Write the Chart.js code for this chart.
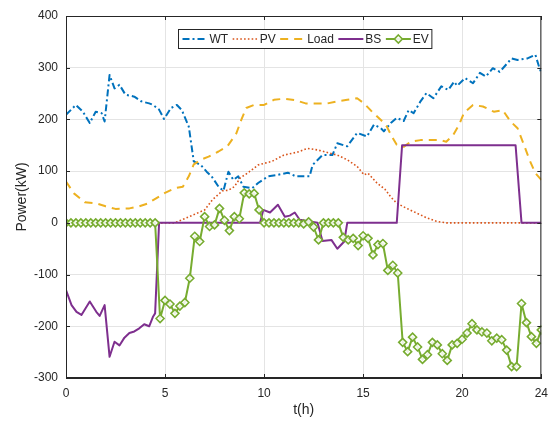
<!DOCTYPE html>
<html>
<head>
<meta charset="utf-8">
<script src="https://cdn.jsdelivr.net/npm/chart.js@4.4.1/dist/chart.umd.min.js"></script>
<style>
  html, body { margin: 0; padding: 0; background: #ffffff; }
  #wrap { width: 556px; height: 422px; }
</style>
</head>
<body>
<div id="wrap"><canvas id="c" width="556" height="422"></canvas></div>
<script>
// Wind turbine output (kW)
const wtTime  = [0,0.5,0.85,1.2,1.5,1.8,1.95,2.2,2.45,2.7,3.0,3.45,3.8,4.2,4.4,4.7,4.95,5.3,5.6,5.85,6.2,6.45,6.8,7.1,7.35,7.7,7.95,8.2,8.45,8.7,8.95,9.4,9.7,10.2,10.7,11.2,11.6,12.1,12.3,12.45,12.95,13.45,13.7,14.2,14.7,15.2,15.55,15.9,16.05,16.4,16.7,17.05,17.3,17.55,17.9,18.2,18.55,18.95,19.3,19.6,19.75,20.15,20.55,20.9,21.2,21.55,21.9,22.5,22.8,23.3,23.7,23.9,24];
const wtPower = [209,228,215,193,215,212,196,286,260,267,248,244,235,231,228,219,201,222,228,218,186,119,112,99,90,70,62,99,83,90,70,67,77,90,93,97,90,90,90,112,131,131,154,148,174,167,190,183,177,193,203,197,218,212,235,251,241,264,257,273,265,280,270,290,283,299,292,318,315,318,325,300,290];

// Photovoltaic output (kW)
const pvTime  = [0,5.5,6.4,7.0,7.4,7.9,8.2,8.5,8.8,9.2,9.7,10.4,11.0,11.7,12.2,12.7,13.2,13.7,14.2,14.7,15.05,15.25,15.7,16.1,16.4,16.7,17.0,17.2,17.7,18.2,18.7,19.2,24];
const pvPower = [0,0,15,25,45,62,63,70,87,97,112,119,131,137,144,141,136,131,122,109,93,96,77,65,50,38,32,28,19,10,3,0,0];

// Base load (kW)
const loadTime  = [0,0.4,0.95,1.5,2.0,2.5,3.2,3.7,4.1,4.4,5.0,5.5,5.9,6.2,6.45,6.8,7.2,7.7,8.15,8.6,8.85,9.1,9.5,10.0,10.5,11.0,11.6,12.1,12.7,13.2,13.7,14.2,14.7,15.05,15.45,15.9,16.2,16.45,16.7,17.05,17.4,17.9,18.4,18.9,19.2,19.55,19.85,20.1,20.55,21.05,21.6,22.05,22.45,22.8,23.15,23.4,23.7,24];
const loadPower = [80,57,40,38,32,27,28,32,37,44,58,67,70,90,113,122,128,138,148,173,199,222,228,228,238,240,237,231,231,231,235,238,241,231,215,199,186,167,151,147,157,160,160,160,157,170,190,213,228,225,215,218,196,183,148,122,96,83];

// Battery storage power (kW)
const bsTime  = [0,0.28,0.53,0.78,1.2,1.53,1.7,1.95,2.2,2.45,2.7,2.95,3.2,3.45,3.7,3.95,4.2,4.4,4.5,4.7,9.8,9.96,10.3,10.7,11.05,11.3,11.55,11.8,12.7,12.95,13.4,13.7,14.05,14.2,16.7,16.97,22.7,23.0,24];
const bsPower = [-130,-159,-172,-178,-152,-172,-180,-159,-259,-230,-237,-222,-213,-210,-204,-196,-200,-181,-175,0,0,25,20,35,12,14,20,6,0,-35,-33,-50,-36,0,0,150,150,0,0];

// Electric vehicle charging power (kW), 15-minute steps
const evTime = [0,0.25,0.5,0.75,1,1.25,1.5,1.75,2,2.25,2.5,2.75,3,3.25,3.5,3.75,4,4.25,4.5,4.75,5,5.25,5.5,5.75,6,6.25,6.5,6.75,7,7.25,7.5,7.75,8,8.25,8.5,8.75,9,9.25,9.5,9.75,10,10.25,10.5,10.75,11,11.25,11.5,11.75,12,12.25,12.5,12.75,13,13.25,13.5,13.75,14,14.25,14.5,14.75,15,15.25,15.5,15.75,16,16.25,16.5,16.75,17,17.25,17.5,17.75,18,18.25,18.5,18.75,19,19.25,19.5,19.75,20,20.25,20.5,20.75,21,21.25,21.5,21.75,22,22.25,22.5,22.75,23,23.25,23.5,23.75,24];
const evPower = [0,0,0,0,0,0,0,0,0,0,0,0,0,0,0,0,0,0,0,-185,-150,-157,-175,-161,-154,-107,-26,-36,12,-7,-4,28,5,-15,12,8,58,56,57,25,0,0,0,0,0,0,0,0,-2,2,-8,-33,0,0,0,0,-28,-33,-30,-44,-25,-30,-62,-42,-40,-92,-82,-97,-231,-249,-221,-240,-264,-255,-231,-236,-253,-266,-236,-233,-225,-213,-195,-207,-211,-213,-228,-223,-226,-246,-278,-278,-156,-193,-220,-233,-207];

// Axis ticks
const xTicks = [0, 5, 10, 15, 20, 24];
const yTicks = [-300, -200, -100, 0, 100, 200, 300, 400];

const FONT = '"Liberation Sans", Arial, Helvetica, sans-serif';
const AXIS_COLOR = '#262626';
const GRID_COLOR = '#e4e4e4';

function pairs(xs, ys) { return xs.map((x, i) => ({ x: x, y: ys[i] })); }

// Box around the plot area plus inward tick marks on all four sides
const boxPlugin = {
  id: 'axesBox',
  afterDatasetsDraw(chart) {
    const { ctx, chartArea: a, scales } = chart;
    ctx.save();
    ctx.strokeStyle = AXIS_COLOR;
    ctx.lineWidth = 1;
    ctx.beginPath();
    ctx.moveTo(a.left, a.top + 0.5); ctx.lineTo(a.right, a.top + 0.5);
    ctx.moveTo(a.right - 0.5, a.top); ctx.lineTo(a.right - 0.5, a.bottom);
    ctx.moveTo(a.left + 0.5, a.top); ctx.lineTo(a.left + 0.5, a.bottom);
    ctx.moveTo(a.left, a.bottom - 0.5); ctx.lineTo(a.right, a.bottom - 0.5);
    const len = 4;
    xTicks.forEach(v => {
      const px = Math.round(scales.x.getPixelForValue(v)) + 0.5;
      ctx.moveTo(px, a.bottom); ctx.lineTo(px, a.bottom - len);
      ctx.moveTo(px, a.top); ctx.lineTo(px, a.top + len);
    });
    yTicks.forEach(v => {
      const py = Math.round(scales.y.getPixelForValue(v)) + 0.5;
      ctx.moveTo(a.left, py); ctx.lineTo(a.left + len, py);
      ctx.moveTo(a.right, py); ctx.lineTo(a.right - len, py);
    });
    ctx.stroke();
    ctx.restore();
  }
};

// Horizontal legend box inside the plot, built from the dataset styles
const legendPlugin = {
  id: 'boxLegend',
  afterDraw(chart) {
    const ctx = chart.ctx;
    const sets = chart.data.datasets;
    ctx.save();
    ctx.font = '12px ' + FONT;
    const sample = 25, gapLT = 2, gapItem = 4.5, padL = 4, padR = 3;
    let w = padL + padR;
    sets.forEach((d, i) => {
      w += sample + gapLT + ctx.measureText(d.label).width + (i < sets.length - 1 ? gapItem : 0);
    });
    const x0 = 178.5, y0 = 29.5, h = 19;
    ctx.fillStyle = '#ffffff';
    ctx.fillRect(x0, y0, w, h);
    ctx.strokeStyle = AXIS_COLOR;
    ctx.lineWidth = 1;
    ctx.strokeRect(x0, y0, w, h);
    const cy = y0 + h / 2;
    let x = x0 + padL;
    sets.forEach((d, i) => {
      ctx.save();
      ctx.strokeStyle = d.borderColor;
      ctx.lineWidth = d.borderWidth;
      ctx.setLineDash(d.borderDash || []);
      ctx.beginPath();
      ctx.moveTo(x, cy); ctx.lineTo(x + sample, cy);
      ctx.stroke();
      ctx.setLineDash([]);
      if (d.pointRadius > 0) {
        const r = d.pointRadius, mx = x + sample / 2;
        ctx.beginPath();
        ctx.moveTo(mx, cy - r); ctx.lineTo(mx + r, cy); ctx.lineTo(mx, cy + r); ctx.lineTo(mx - r, cy); ctx.closePath();
        ctx.fillStyle = d.pointBackgroundColor;
        ctx.fill();
        ctx.lineWidth = d.pointBorderWidth;
        ctx.strokeStyle = d.pointBorderColor;
        ctx.stroke();
      }
      ctx.restore();
      x += sample + gapLT;
      ctx.fillStyle = AXIS_COLOR;
      ctx.textBaseline = 'middle';
      ctx.fillText(d.label, x, cy + 0.5);
      x += ctx.measureText(d.label).width + gapItem;
    });
    ctx.restore();
  }
};

const ctx = document.getElementById('c').getContext('2d');
new Chart(ctx, {
  type: 'line',
  data: {
    datasets: [
      { label: 'WT', data: pairs(wtTime, wtPower), borderColor: '#0072BD', borderWidth: 2,
        borderDash: [7, 3, 2, 3], pointRadius: 0, order: 4 },
      { label: 'PV', data: pairs(pvTime, pvPower), borderColor: '#D95319', borderWidth: 1.6,
        borderDash: [1.6, 2.2], pointRadius: 0, order: 3 },
      { label: 'Load', data: pairs(loadTime, loadPower), borderColor: '#EDB120', borderWidth: 2,
        borderDash: [8, 6], pointRadius: 0, order: 2 },
      { label: 'BS', data: pairs(bsTime, bsPower), borderColor: '#7E2F8E', borderWidth: 2,
        pointRadius: 0, order: 1 },
      { label: 'EV', data: pairs(evTime, evPower), borderColor: '#77AC30', borderWidth: 2,
        pointStyle: 'rectRot', pointRadius: 4, pointBorderWidth: 1.6,
        pointBorderColor: '#77AC30', pointBackgroundColor: 'rgba(255,255,255,0.85)', order: 0 }
    ]
  },
  options: {
    responsive: false,
    animation: false,
    events: [],
    elements: { line: { tension: 0, fill: false, borderJoinStyle: 'round' } },
    layout: { padding: { top: 16, right: 11, left: 0, bottom: 0 } },
    plugins: { legend: { display: false }, tooltip: { enabled: false } },
    scales: {
      x: {
        type: 'linear', min: 0, max: 24,
        afterBuildTicks: s => { s.ticks = xTicks.map(v => ({ value: v })); },
        afterFit: s => { s.height = 44; },
        grid: { color: GRID_COLOR, drawTicks: false },
        border: { color: AXIS_COLOR },
        ticks: { color: AXIS_COLOR, font: { family: FONT, size: 12 }, padding: 8, maxRotation: 0, autoSkip: false },
        title: { display: true, text: 't(h)', color: AXIS_COLOR, font: { family: FONT, size: 14 }, padding: { top: 0, bottom: 3 } }
      },
      y: {
        min: -300, max: 400,
        afterBuildTicks: s => { s.ticks = yTicks.map(v => ({ value: v })); },
        afterFit: s => { s.width = 66; },
        grid: { color: GRID_COLOR, drawTicks: false },
        border: { color: AXIS_COLOR },
        ticks: { color: AXIS_COLOR, font: { family: FONT, size: 12 }, padding: 8 },
        title: { display: true, text: 'Power(kW)', color: AXIS_COLOR, font: { family: FONT, size: 14 }, padding: { top: 14, bottom: 0 } }
      }
    }
  },
  plugins: [boxPlugin, legendPlugin]
});
</script>
</body>
</html>
